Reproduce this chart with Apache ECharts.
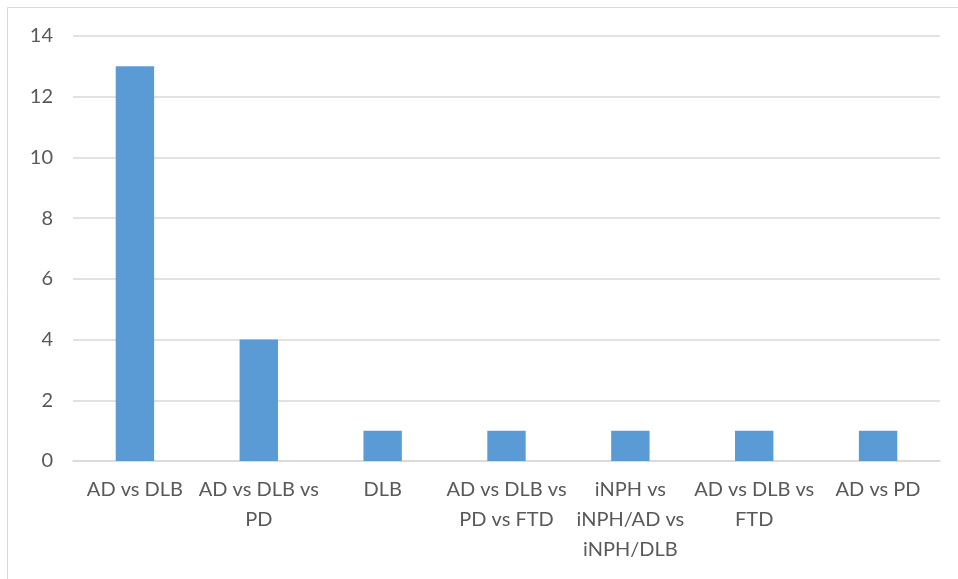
<!DOCTYPE html>
<html>
<head>
<meta charset="utf-8">
<script src="https://cdn.jsdelivr.net/npm/echarts@6/dist/echarts.min.js"></script>
<style>
  html, body { margin: 0; padding: 0; background: #ffffff; }
  #chart { width: 958px; height: 579px; }
</style>
</head>
<body>
<div id="chart"></div>
<script>
// Comparison groups and number of studies per group
const categories = [
  'AD vs DLB',
  'AD vs DLB vs PD',
  'DLB',
  'AD vs DLB vs PD vs FTD',
  'iNPH vs iNPH/AD vs iNPH/DLB',
  'AD vs DLB vs FTD',
  'AD vs PD'
];
const counts = [13, 4, 1, 1, 1, 1, 1];
const yTicks = { min: 0, max: 14, interval: 2 };

const textColor = '#595959';
const gridColor = '#d9d9d9';
const fontFamily = 'Lato, "Open Sans", sans-serif';
const labelSize = 20;
const labelMaxWidth = 124;

// Wrap a label at spaces only, so slashes never split a term
const measureCtx = document.createElement('canvas').getContext('2d');
measureCtx.font = labelSize + 'px ' + fontFamily;
function wrapAtSpaces(text) {
  const words = text.split(' ');
  const lines = [];
  let line = '';
  words.forEach(function (w) {
    const candidate = line ? line + ' ' + w : w;
    if (line && measureCtx.measureText(candidate).width > labelMaxWidth) {
      lines.push(line);
      line = w;
    } else {
      line = candidate;
    }
  });
  if (line) lines.push(line);
  return lines.join('\n');
}

const chart = echarts.init(document.getElementById('chart'));
chart.setOption({
  animation: false,
  backgroundColor: '#ffffff',
  graphic: [{
    type: 'rect',
    shape: { x: 7.5, y: 7.5, width: 960, height: 580 },
    style: { fill: 'none', stroke: '#d9d9d9', lineWidth: 1 },
    silent: true
  }],
  grid: { left: 73, right: 18, top: 36, bottom: 118, containLabel: false },
  xAxis: {
    type: 'category',
    data: categories,
    axisTick: { show: false },
    axisLine: { lineStyle: { color: gridColor, width: 1.5 } },
    axisLabel: {
      interval: 0,
      color: textColor,
      fontFamily: fontFamily,
      fontSize: labelSize,
      lineHeight: 30,
      margin: 14,
      formatter: wrapAtSpaces
    }
  },
  yAxis: {
    type: 'value',
    min: yTicks.min,
    max: yTicks.max,
    interval: yTicks.interval,
    axisLine: { show: false },
    axisTick: { show: false },
    splitLine: { lineStyle: { color: gridColor, width: 1.5 } },
    axisLabel: {
      color: textColor,
      fontFamily: fontFamily,
      fontSize: labelSize,
      margin: 20
    }
  },
  series: [{
    type: 'bar',
    data: counts,
    barWidth: '31%',
    itemStyle: { color: '#5b9bd5' }
  }]
});
</script>
</body>
</html>
